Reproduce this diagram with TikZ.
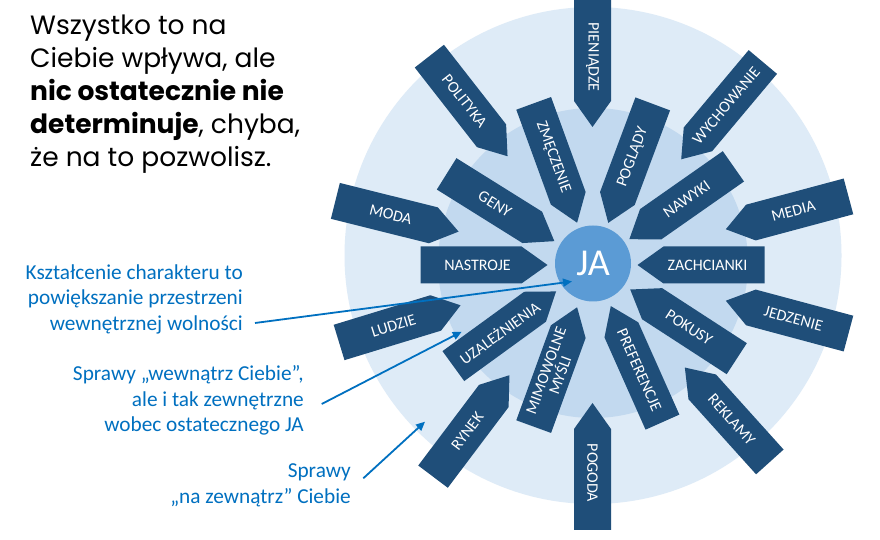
\documentclass[tikz,border=0pt]{standalone}
\usepackage{fontspec}
\setmainfont{Carlito}
\newfontfamily\titlefont{Poppins}
\usetikzlibrary{arrows.meta}
\definecolor{outerc}{HTML}{DEEBF7}
\definecolor{midc}{HTML}{C2D9EF}
\definecolor{jac}{HTML}{5B9BD5}
\definecolor{arrc}{HTML}{1F4E79}
\definecolor{notec}{HTML}{0070C0}
\tikzset{
  lbl/.style={text=white, font=\fontsize{16}{15}\selectfont, align=center, inner sep=0pt},
  ttl/.style={anchor=base west, inner sep=0pt, font=\titlefont\fontsize{26.5}{30}\selectfont},
  note/.style={anchor=base east, inner sep=0pt, text=notec, font=\fontsize{21.3}{26}\selectfont},
  notearrow/.style={draw=notec, line width=1.8pt, -{Triangle[length=9pt,width=8pt]}},
}
% name, angle, tip radius, text rotation, text
\newcommand\inflarrow[5]{%
  \fill[arrc, shift={(C)}, rotate=#2] (#3,0) -- (#3+26,18.5) -- (#3+127,18.5) -- (#3+127,-18.5) -- (#3+26,-18.5) -- cycle;
  \path (C) ++(#2:{#3+70}) node[lbl, rotate=#4] (#1) {#5};
}
\begin{document}
\begin{tikzpicture}[x=1pt,y=1pt]
\useasboundingbox (0,0) rectangle (880,540);
\clip (0,0) rectangle (880,540);
\fill[white] (0,0) rectangle (880,540);
\coordinate (C) at (592.5,275);
\fill[outerc] (593,284.5) circle[radius=248.5];
\fill[midc] (593,277) circle[radius=155];
\node[circle, fill=jac, minimum size=76pt, inner sep=0pt] (JA) at (593,276.5) {};
% outer ring
\inflarrow{pien}{90}{138}{-90}{PIENIĄDZE}
\inflarrow{wych}{50}{138}{50}{WYCHOWANIE}
\inflarrow{media}{15}{138}{15}{MEDIA}
\inflarrow{jedz}{-15}{138}{-15}{JEDZENIE}
\inflarrow{rekl}{-48}{138}{-48}{REKLAMY}
\inflarrow{pogoda}{-90}{138}{-90}{POGODA}
\inflarrow{rynek}{-127}{138}{53}{RYNEK}
\inflarrow{ludzie}{-163}{138}{17}{LUDZIE}
\inflarrow{moda}{166}{138}{-14}{MODA}
\inflarrow{polit}{128}{138}{-52}{POLITYKA}
% inner ring
\inflarrow{zach}{0}{45}{0}{ZACHCIANKI}
\inflarrow{nawyki}{35}{45}{35}{NAWYKI}
\inflarrow{poglady}{69.5}{45}{69.5}{POGLĄDY}
\inflarrow{zmecz}{110}{45}{-70}{ZMĘCZENIE}
\inflarrow{geny}{148}{45}{-32}{GENY}
\inflarrow{nastr}{180}{45}{0}{NASTROJE}
\inflarrow{uzal}{-144}{45}{36}{UZALEŻNIENIA}
\inflarrow{mimo}{-110}{45}{70}{MIMOWOLNE\\MYŚLI}
\inflarrow{pref}{-66}{45}{-66}{PREFERENCJE}
\inflarrow{pokusy}{-33}{45}{-33}{POKUSY}
\node[text=white, font=\fontsize{38}{40}\selectfont, inner sep=0pt] (jatext) at (JA) {JA};
% title
\node[ttl] (t1) at (30,505) {Wszystko to na};
\node[ttl] (t2) at (30,472) {Ciebie wpływa, ale};
\node[ttl] (t3) at (30,439) {\bfseries nic ostatecznie nie};
\node[ttl] (t4) at (30,406) {\textbf{determinuje}, chyba,};
\node[ttl] (t5) at (30,373) {że na to pozwolisz.};
% notes
\node[note] (n1a) at (243,260) {Kształcenie charakteru to};
\node[note] (n1b) at (243,235) {powiększanie przestrzeni};
\node[note] (n1c) at (243,209) {wewnętrznej wolności};
\node[note] (n2a) at (304,159.3) {Sprawy „wewnątrz Ciebie”,};
\node[note] (n2b) at (304,133.3) {ale i tak zewnętrzne};
\node[note] (n2c) at (304,108.3) {wobec ostatecznego JA};
\node[note] (n3a) at (351,62.3) {Sprawy};
\node[note] (n3b) at (351,36.7) {„na zewnątrz” Ciebie};
\coordinate (s1) at (255,217);
\coordinate (e1) at (572,258.5);
\coordinate (s2) at (321.7,136);
\coordinate (e2) at (461.7,208.3);
\coordinate (s3) at (363.3,61.7);
\coordinate (e3) at (425,118.3);
\draw[notearrow] (s1) -- (e1);
\draw[notearrow] (s2) -- (e2);
\draw[notearrow] (s3) -- (e3);
\end{tikzpicture}
\end{document}
